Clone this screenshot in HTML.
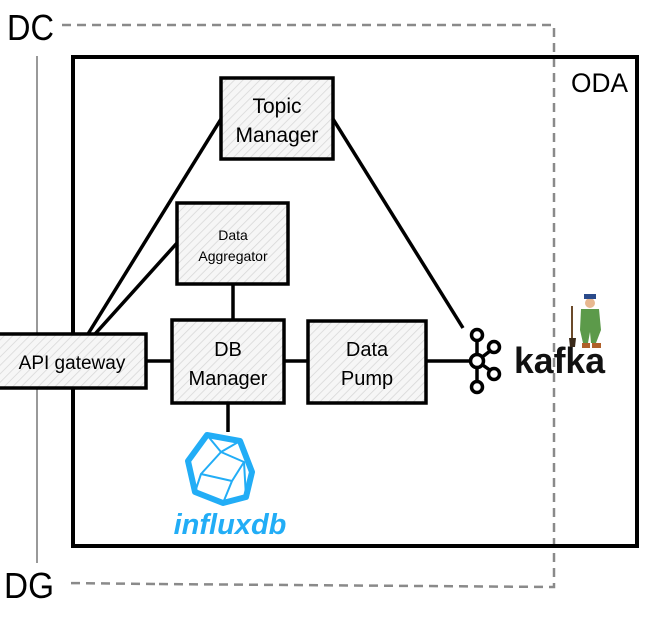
<!DOCTYPE html>
<html><head><style>
html,body{margin:0;padding:0;background:#fff;}
svg{display:block;}
text{font-family:"Liberation Sans",sans-serif;}
</style></head><body>
<svg width="652" height="627" viewBox="0 0 652 627" xmlns="http://www.w3.org/2000/svg">
<defs>
<pattern id="h" width="6" height="6" patternUnits="userSpaceOnUse" patternTransform="rotate(45)">
<rect width="6" height="6" fill="#f6f6f6"/>
<line x1="0" y1="0" x2="0" y2="6" stroke="#d6d6d6" stroke-width="1.5"/>
</pattern>
</defs>
<polyline points="62,25 554,25 554,587 155,584" fill="none" stroke="#8a8a8a" stroke-width="2.5" stroke-dasharray="9,6"/>
<line x1="155" y1="584" x2="65" y2="583" stroke="#8a8a8a" stroke-width="2.5" stroke-dasharray="9,6"/>
<line x1="37" y1="56" x2="37" y2="563" stroke="#999" stroke-width="2"/>
<text x="7" y="40" font-size="36" textLength="47" lengthAdjust="spacingAndGlyphs">DC</text>
<text x="4" y="598" font-size="36" textLength="50" lengthAdjust="spacingAndGlyphs">DG</text>
<rect x="73" y="57" width="564" height="489" fill="none" stroke="#000" stroke-width="4"/>
<text x="571" y="92" font-size="27" textLength="57" lengthAdjust="spacingAndGlyphs">ODA</text>
<g stroke="#000" stroke-width="3.5" fill="none">
<line x1="88" y1="334" x2="221" y2="119"/>
<line x1="95" y1="334" x2="177" y2="243"/>
<line x1="333" y1="119" x2="463" y2="328"/>
<line x1="233" y1="284" x2="233" y2="320"/>
<line x1="146" y1="361" x2="172" y2="361"/>
<line x1="284" y1="361" x2="308" y2="361"/>
<line x1="426" y1="361" x2="470" y2="361"/>
<line x1="228" y1="403" x2="228" y2="432"/>
</g>
<g stroke="#000" stroke-width="3.5" fill="url(#h)">
<rect x="221" y="78" width="112" height="81"/>
<rect x="177" y="203" width="111" height="81"/>
<rect x="-2" y="334" width="148" height="54"/>
<rect x="172" y="320" width="112" height="83"/>
<rect x="308" y="321" width="118" height="82"/>
</g>
<g text-anchor="middle" fill="#000">
<text x="277" y="113" font-size="21">Topic</text>
<text x="277" y="142" font-size="21">Manager</text>
<text x="233" y="240" font-size="14">Data</text>
<text x="233" y="261" font-size="14">Aggregator</text>
<text x="72" y="369" font-size="19">API gateway</text>
<text x="228" y="356" font-size="20">DB</text>
<text x="228" y="385" font-size="20">Manager</text>
<text x="367" y="356" font-size="20">Data</text>
<text x="367" y="385" font-size="20">Pump</text>
</g>
<g stroke="#000" stroke-width="3.5" fill="#fff">
<line x1="477" y1="336" x2="477" y2="386"/>
<line x1="477" y1="361" x2="494" y2="348"/>
<line x1="477" y1="361" x2="494" y2="373"/>
<circle cx="477" cy="335" r="5.5"/>
<circle cx="477" cy="387" r="5.5"/>
<circle cx="477" cy="361" r="6.5"/>
<circle cx="494" cy="347" r="5.5"/>
<circle cx="494" cy="374" r="5.5"/>
</g>
<text x="514" y="373" font-size="36" font-weight="bold" fill="#111" textLength="91" lengthAdjust="spacingAndGlyphs">kafka</text>
<g>
<line x1="572" y1="306" x2="572" y2="340" stroke="#6b4a2a" stroke-width="2"/>
<path d="M569 338 L576 338 L575 347 L570 347 Z" fill="#3a2a1a"/>
<circle cx="590" cy="303" r="5" fill="#e8b890"/>
<rect x="584" y="294" width="12" height="5" fill="#2a4a8a"/>
<path d="M581 309 L599 309 L601 330 L596 343 L591 343 L590 332 L588 343 L583 343 L580 330 Z" fill="#5c9a4a"/>
<rect x="582" y="343" width="8" height="5" fill="#b0602a"/>
<rect x="592" y="343" width="9" height="5" fill="#b0602a"/>
</g>
<g fill="none" stroke="#22adf6" stroke-linejoin="round">
<path d="M207 435 L240 441 L252 472 L246 497 L223 503 L195 492 L188 461 Z" stroke-width="6"/>
<path d="M207 435 L221 452 L240 441 M221 452 L244 462 L246 497 M244 462 L232 481 L223 503 M232 481 L201 474 L195 492 M201 474 L221 452" stroke-width="2"/>
</g>
<text x="230" y="534" font-size="29" font-weight="bold" font-style="italic" fill="#22adf6" text-anchor="middle">influxdb</text>
</svg>
</body></html>
